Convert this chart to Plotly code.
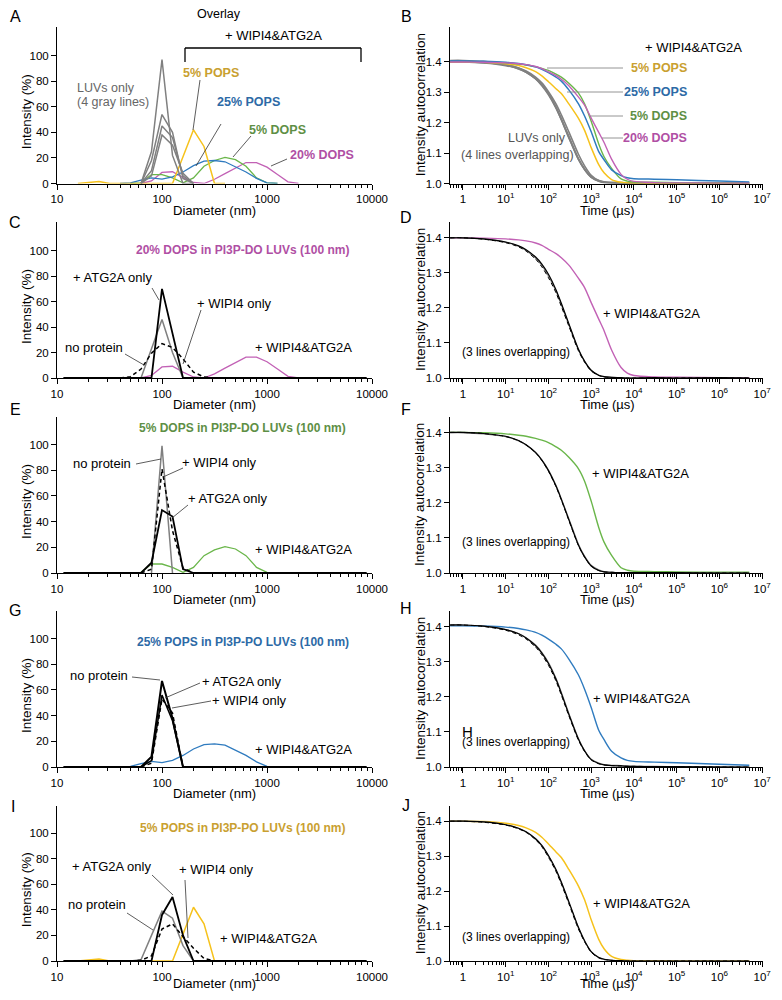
import plotly.graph_objects as go

# The page body has an 8px margin, so the figure is drawn 8px smaller on each side
# and every reference pixel position is shifted by that offset.
W, H = 782, 1000
OFF = 8
WF, HF = W - 2 * OFF, H - 2 * OFF
FONT = "Liberation Sans, Arial, Helvetica, sans-serif"

# ---------------- DLS size distributions: diameter (nm) / intensity (%) ----------------
luv_a_d = [63.1, 79.4, 100, 125.9, 158.5, 199.5]
luv_a1_i = [0, 25, 97, 22, 0, 0]
luv_a2_i = [0, 18, 54, 40, 4, 0]
luv_a3_i = [0, 10, 45, 36, 6, 0]
luv_a4_i = [0, 6, 38, 30, 8, 0]

pops5_d = [15.8, 20, 25.1, 31.6, 100, 125.9, 158.5, 199.5, 251.2, 316.2, 398.1]
pops5_i = [0, 0.5, 1.5, 0, 0, 0, 21, 42, 29, 0, 0]
pops25_d = [39.8, 50.1, 63.1, 79.4, 100, 125.9, 158.5, 199.5, 251.2, 316.2, 398.1, 501.2, 631, 794.3, 1000, 1259]
pops25_i = [0, 0.5, 2.6, 4.4, 3.4, 5.2, 9, 14, 17.5, 18, 17, 13, 9, 4, 0.5, 0]
dops5_d = [50.1, 63.1, 79.4, 100, 125.9, 158.5, 199.5, 251.2, 316.2, 398.1, 501.2, 631, 794.3, 1000, 1259]
dops5_i = [0, 0.5, 7, 7, 4.4, 0.5, 4.4, 13.5, 18, 20.5, 18.7, 13.5, 4.4, 0.5, 0]
dops20_d = [63.1, 79.4, 100, 125.9, 158.5, 199.5, 251.2, 316.2, 398.1, 501.2, 631, 794.3, 1000, 1259, 1585, 1995]
dops20_i = [0, 2, 8.7, 9.2, 4.6, 0.8, 0, 3.3, 7.7, 12.3, 16.4, 16.4, 12.8, 7, 1.3, 0]

c_noprot_d = [39.8, 50.1, 63.1, 79.4, 100, 125.9, 158.5, 199.5, 251.2, 316.2]
c_noprot_i = [0, 1, 7, 19.5, 27, 24, 15, 4.6, 0.8, 0]
c_wipi_d = [63.1, 79.4, 100, 125.9, 158.5]
c_wipi_i = [0, 23, 46, 20, 0]
c_atg_d = [11.5, 79.4, 100, 125.9, 158.5, 8900]
c_atg_i = [0, 0, 70, 35, 0, 0]

e_noprot_d = [79.4, 100, 125.9]
e_noprot_i = [0, 99, 0]
e_wipi_d = [63.1, 79.4, 100, 125.9, 158.5, 199.5]
e_wipi_i = [0, 3, 81, 33, 4, 0]
e_atg_d = [11.5, 63.1, 79.4, 100, 125.9, 158.5, 199.5, 8900]
e_atg_i = [0, 0, 8, 49, 44, 3, 0, 0]

g_noprot_d = [11.5, 63.1, 79.4, 100, 125.9, 158.5, 8900]
g_noprot_i = [0, 0, 8, 67, 38, 0, 0]
g_atg_d = [63.1, 79.4, 100, 125.9, 158.5]
g_atg_i = [0, 5, 56, 36, 0]
g_wipi_d = [63.1, 79.4, 100, 125.9, 158.5]
g_wipi_i = [0, 3, 53, 42, 0]

i_noprot_d = [50.1, 63.1, 79.4, 100, 125.9, 158.5, 199.5]
i_noprot_i = [0, 1, 20, 39, 33.5, 12, 0]
i_atg_d = [11.5, 79.4, 100, 125.9, 158.5, 199.5, 8900]
i_atg_i = [0, 0, 36, 50, 20, 0, 0]
i_wipi_d = [50.1, 63.1, 79.4, 100, 125.9, 158.5, 199.5, 251.2, 316.2]
i_wipi_i = [0, 0.5, 4, 25, 29, 19, 10, 2, 0]

# ---------------- autocorrelation: time (us) / g2 ----------------
time_us = [0.5, 1, 3, 10, 20, 30, 50, 70, 100, 150, 200, 300, 500, 700, 1000,
           1500, 2000, 3000, 5000, 7000, 1e4, 3e4, 1e5, 1e6, 5e6]
g2_pops5 = [1.400, 1.400, 1.399, 1.394, 1.388, 1.381, 1.368, 1.354, 1.335, 1.312, 1.296, 1.262, 1.215,
            1.175, 1.118, 1.062, 1.035, 1.013, 1.004, 1.002, 1.001, 1.001, 1.000, 1.000, 1.000]
g2_pops25 = [1.403, 1.403, 1.402, 1.399, 1.395, 1.391, 1.384, 1.376, 1.365, 1.350, 1.337, 1.308, 1.263,
             1.222, 1.170, 1.105, 1.078, 1.045, 1.026, 1.019, 1.016, 1.014, 1.012, 1.008, 1.005]
g2_dops5 = [1.401, 1.401, 1.400, 1.397, 1.393, 1.390, 1.384, 1.379, 1.372, 1.360, 1.350, 1.330, 1.298,
            1.262, 1.205, 1.130, 1.088, 1.050, 1.015, 1.008, 1.005, 1.004, 1.003, 1.002, 1.002]
g2_dops20 = [1.400, 1.400, 1.399, 1.397, 1.394, 1.391, 1.385, 1.378, 1.367, 1.355, 1.343, 1.322, 1.285,
             1.258, 1.215, 1.168, 1.135, 1.080, 1.030, 1.014, 1.007, 1.003, 1.002, 1.001, 1.001]

d_noprot = [1.400, 1.400, 1.397, 1.388, 1.377, 1.366, 1.345, 1.325, 1.296, 1.252, 1.213, 1.155, 1.083,
            1.048, 1.022, 1.008, 1.004, 1.002, 1.001, 1.000, 1.000, 1.001, 1.000, 1.001, 1.000]
d_wipi = [1.400, 1.400, 1.396, 1.386, 1.374, 1.362, 1.339, 1.317, 1.286, 1.243, 1.204, 1.148, 1.078,
          1.045, 1.020, 1.007, 1.003, 1.001, 1.000, 1.000, 1.000, 1.000, 1.000, 1.000, 1.000]
d_atg = [1.400, 1.400, 1.397, 1.387, 1.376, 1.364, 1.342, 1.321, 1.291, 1.248, 1.209, 1.152, 1.081,
         1.047, 1.021, 1.008, 1.004, 1.002, 1.001, 1.000, 1.000, 1.000, 1.000, 1.000, 1.000]

f_noprot = [1.401, 1.401, 1.398, 1.390, 1.378, 1.366, 1.344, 1.322, 1.292, 1.248, 1.210, 1.152, 1.080,
            1.046, 1.020, 1.007, 1.003, 1.002, 1.001, 1.001, 1.001, 1.001, 1.001, 1.000, 1.000]
f_wipi = [1.401, 1.401, 1.398, 1.389, 1.377, 1.365, 1.343, 1.321, 1.290, 1.246, 1.208, 1.150, 1.079,
          1.045, 1.020, 1.007, 1.003, 1.002, 1.001, 1.001, 1.001, 1.001, 1.000, 1.000, 1.000]
f_atg = [1.400, 1.400, 1.397, 1.389, 1.377, 1.365, 1.343, 1.323, 1.294, 1.250, 1.212, 1.155, 1.083,
         1.048, 1.022, 1.009, 1.004, 1.002, 1.001, 1.001, 1.001, 1.001, 1.000, 1.000, 1.000]

h_noprot = [1.405, 1.405, 1.402, 1.392, 1.380, 1.368, 1.346, 1.325, 1.295, 1.250, 1.210, 1.150, 1.080,
            1.046, 1.021, 1.010, 1.006, 1.004, 1.003, 1.002, 1.002, 1.001, 1.001, 1.000, 1.000]
h_wipi = [1.405, 1.405, 1.401, 1.390, 1.377, 1.365, 1.342, 1.320, 1.290, 1.245, 1.205, 1.146, 1.077,
          1.044, 1.020, 1.009, 1.006, 1.004, 1.003, 1.002, 1.002, 1.001, 1.001, 1.000, 1.000]
h_atg = [1.405, 1.405, 1.402, 1.392, 1.381, 1.369, 1.348, 1.327, 1.298, 1.253, 1.213, 1.153, 1.082,
         1.047, 1.022, 1.011, 1.007, 1.005, 1.004, 1.003, 1.002, 1.002, 1.001, 1.001, 1.000]

j_noprot = [1.400, 1.400, 1.398, 1.390, 1.380, 1.370, 1.350, 1.331, 1.302, 1.262, 1.226, 1.170, 1.097,
            1.058, 1.027, 1.010, 1.005, 1.002, 1.001, 1.000, 1.000, 1.000, 1.000, 1.000, 1.000]
j_wipi = [1.400, 1.400, 1.397, 1.389, 1.378, 1.368, 1.347, 1.327, 1.297, 1.256, 1.220, 1.164, 1.092,
          1.055, 1.025, 1.009, 1.004, 1.002, 1.001, 1.000, 1.000, 1.000, 1.000, 1.000, 1.000]
j_atg = [1.400, 1.400, 1.398, 1.390, 1.379, 1.369, 1.349, 1.329, 1.300, 1.259, 1.223, 1.167, 1.095,
         1.057, 1.026, 1.010, 1.005, 1.002, 1.001, 1.000, 1.000, 1.000, 1.000, 1.000, 1.000]

# ---------------- axis ticks ----------------
dls_tickvals = [10, 100, 1000, 10000]
dls_ticktext = ["10", "100", "1000", "10000"]
dls_minor = [k * 10 ** e for e in (1, 2, 3) for k in range(2, 10)]
int_tickvals = [0, 20, 40, 60, 80, 100]
time_tickvals = [1, 10, 100, 1e3, 1e4, 1e5, 1e6, 1e7]
time_ticktext = ["1", "10<sup>1</sup>", "10<sup>2</sup>", "10<sup>3</sup>", "10<sup>4</sup>",
                 "10<sup>5</sup>", "10<sup>6</sup>", "10<sup>7</sup>"]
time_minor = [k * 10 ** e for e in range(-1, 7) for k in range(2, 10) if k * 10 ** e >= 0.5]
g2_tickvals = [1.0, 1.1, 1.2, 1.3, 1.4]

# ---------------- colours ----------------
YEL, YEL_T = "#f6c21c", "#c9a030"
BLU, BLU_T = "#2f7bbf", "#2d6aa6"
GRN, GRN_T = "#6ab64a", "#5e8f45"
PUR, PUR_T = "#c261b5", "#b04fa4"
GRY = "#808080"
DASH = "4px,3px"


def px(x):
    return (x - OFF) / WF


def py(y):
    return 1 - (y - OFF) / HF


fig = go.Figure()

LEFT_X = (57, 372)
RIGHT_X = (450, 763)
ROWS = [(27, 183.5), (222, 378), (417, 573), (611, 767), (805.5, 961)]
LEFT_YMAX = [122.5, 122.5, 121.5, 121.5, 121.5]
RIGHT_YMAX = [1.515, 1.445, 1.445, 1.445, 1.445]

common = dict(showline=True, linecolor="black", linewidth=1, ticks="outside", tickcolor="black",
              ticklen=5, tickwidth=1, showgrid=False, zeroline=False, automargin=False,
              tickfont=dict(size=11.5, color="black", family=FONT))

for r in range(5):
    top, bot = ROWS[r]
    ydom = [py(bot), py(top)]
    nl = 2 * r + 1
    nr = 2 * r + 2
    sl = "" if nl == 1 else str(nl)
    sr = str(nr)
    fig.update_layout(**{
        "xaxis" + sl: dict(common, type="log", domain=[px(LEFT_X[0]), px(LEFT_X[1])], range=[1, 4],
                           tickvals=dls_tickvals, ticktext=dls_ticktext, anchor="y" + sl,
                           minor=dict(tickvals=dls_minor, ticks="outside", ticklen=3,
                                      tickcolor="black", tickwidth=1)),
        "yaxis" + sl: dict(common, domain=ydom, range=[0, LEFT_YMAX[r]], tickvals=int_tickvals,
                           anchor="x" + sl),
        "xaxis" + sr: dict(common, type="log", domain=[px(RIGHT_X[0]), px(RIGHT_X[1])],
                           range=[-0.304, 7.02], tickvals=time_tickvals, ticktext=time_ticktext,
                           anchor="y" + sr,
                           minor=dict(tickvals=time_minor, ticks="outside", ticklen=3,
                                      tickcolor="black", tickwidth=1)),
        "yaxis" + sr: dict(common, domain=ydom, range=[1.0, RIGHT_YMAX[r]], tickvals=g2_tickvals,
                           tickformat=".1f", anchor="x" + sr),
    })


def dls(n, d, i, color, width=1.3, dash="solid"):
    s = "" if n == 1 else str(n)
    fig.add_trace(go.Scatter(x=d, y=i, mode="lines", line=dict(color=color, width=width, dash=dash),
                             xaxis="x" + s, yaxis="y" + s, showlegend=False, hoverinfo="skip"))


def g2(n, y, color, width=1.4, dash="solid"):
    s = str(n)
    fig.add_trace(go.Scatter(x=time_us, y=y, mode="lines",
                             line=dict(color=color, width=width, dash=dash, shape="spline", smoothing=0.8),
                             xaxis="x" + s, yaxis="y" + s, showlegend=False, hoverinfo="skip"))


# Panel A (overlay)
dls(1, dops20_d, dops20_i, PUR)
dls(1, dops5_d, dops5_i, GRN)
dls(1, pops25_d, pops25_i, BLU)
dls(1, pops5_d, pops5_i, YEL, 1.5)
for arr in (luv_a4_i, luv_a3_i, luv_a2_i, luv_a1_i):
    dls(1, luv_a_d, arr, GRY, 1.5)

# Panel B
for arr in (d_noprot, f_noprot, h_noprot, j_noprot):
    g2(2, arr, GRY, 1.6)
g2(2, g2_pops5, YEL, 1.5)
g2(2, g2_dops5, GRN, 1.4)
g2(2, g2_pops25, BLU, 1.5)
g2(2, g2_dops20, PUR, 1.4)

# Panel C
dls(3, dops20_d, dops20_i, PUR)
dls(3, c_wipi_d, c_wipi_i, GRY, 1.5)
dls(3, c_noprot_d, c_noprot_i, "black", 1.5, DASH)
dls(3, c_atg_d, c_atg_i, "black", 1.8)

# Panel D
g2(4, g2_dops20, PUR, 1.4)
g2(4, d_atg, GRY, 1.2)
g2(4, d_wipi, "black", 1.0, DASH)
g2(4, d_noprot, "black", 1.2)

# Panel E
dls(5, dops5_d, dops5_i, GRN)
dls(5, e_noprot_d, e_noprot_i, GRY, 1.5)
dls(5, e_wipi_d, e_wipi_i, "black", 1.5, DASH)
dls(5, e_atg_d, e_atg_i, "black", 1.8)

# Panel F
g2(6, g2_dops5, GRN, 1.4)
g2(6, f_atg, GRY, 1.2)
g2(6, f_wipi, "black", 1.0, DASH)
g2(6, f_noprot, "black", 1.2)

# Panel G
dls(7, pops25_d, pops25_i, BLU)
dls(7, g_wipi_d, g_wipi_i, "black", 1.5, DASH)
dls(7, g_atg_d, g_atg_i, "black", 1.5)
dls(7, g_noprot_d, g_noprot_i, "black", 2.0)

# Panel H
g2(8, g2_pops25, BLU, 1.4)
g2(8, h_atg, GRY, 1.2)
g2(8, h_wipi, "black", 1.0, DASH)
g2(8, h_noprot, "black", 1.2)

# Panel I
dls(9, pops5_d, pops5_i, YEL, 1.5)
dls(9, i_noprot_d, i_noprot_i, GRY, 1.5)
dls(9, i_wipi_d, i_wipi_i, "black", 1.5, DASH)
dls(9, i_atg_d, i_atg_i, "black", 1.8)

# Panel J
g2(10, g2_pops5, YEL, 1.5)
g2(10, j_atg, GRY, 1.2)
g2(10, j_wipi, "black", 1.0, DASH)
g2(10, j_noprot, "black", 1.2)

# ---------------- annotations ----------------
anns = []
shapes = []


def ann(text, x, y, xanchor="left", size=13, color="black", angle=0):
    anns.append(dict(text=text, x=px(x), y=py(y), xref="paper", yref="paper", xanchor=xanchor,
                     yanchor="middle", showarrow=False, textangle=angle, borderpad=0,
                     font=dict(size=size, color=color, family=FONT)))


def seg(x0, y0, x1, y1, color="#333333", width=0.8):
    shapes.append(dict(type="line", xref="paper", yref="paper", x0=px(x0), y0=py(y0),
                       x1=px(x1), y1=py(y1), line=dict(color=color, width=width)))


# panel letters
for letter, x, y in [("A", 15, 16), ("B", 406, 16), ("C", 15, 222), ("D", 406, 218), ("E", 15, 410),
                     ("F", 406, 410), ("G", 15, 610), ("H", 406, 608), ("I", 13, 806), ("J", 406, 805)]:
    ann(letter, x, y, "center", 16)

# axis titles
for r in range(5):
    top, bot = ROWS[r]
    mid = (top + bot) / 2
    ty = bot + 26.5 if r < 4 else 983.5
    ann("Intensity (%)", 26, mid + 7, "center", 13.5, angle=-90)
    ann("Intensity autocorrelation", 420, mid, "center", 13.5, angle=-90)
    ann("Diameter (nm)", 214, ty, "center", 13)
    ann("Time (µs)", 607, ty, "center", 13)

# Panel A
ann("Overlay", 219, 14, "center", 12.5)
ann("+ WIPI4&ATG2A", 273, 36, "center", 13)
seg(185, 48, 361, 48, "black", 1.3)
seg(185, 48, 185, 62, "black", 1.3)
seg(361, 48, 361, 62, "black", 1.3)
ann("LUVs only", 76, 88, "left", 12.5, "#666666")
ann("(4 gray lines)", 76, 102, "left", 12.5, "#666666")
ann("<b>5% POPS</b>", 182, 73, "left", 12.5, YEL_T)
ann("<b>25% POPS</b>", 216, 102, "left", 12.5, BLU_T)
ann("<b>5% DOPS</b>", 248, 130, "left", 12.5, GRN_T)
ann("<b>20% DOPS</b>", 289, 155, "left", 12.5, PUR_T)
seg(200, 80, 193, 130)
seg(221, 124, 196, 166)
seg(251, 136, 233, 157)
seg(287, 159, 271, 166)

# Panel B
ann("+ WIPI4&ATG2A", 693, 47, "center", 13)
ann("<b>5% POPS</b>", 688, 68, "right", 12.5, YEL_T)
ann("<b>25% POPS</b>", 688, 92, "right", 12.5, BLU_T)
ann("<b>5% DOPS</b>", 688, 116, "right", 12.5, GRN_T)
ann("<b>20% DOPS</b>", 688, 138, "right", 12.5, PUR_T)
seg(547, 68, 623, 68, "#888888", 0.9)
seg(567, 92, 623, 92, "#888888", 0.9)
seg(590, 116, 623, 116, "#888888", 0.9)
seg(602, 138, 623, 138, "#888888", 0.9)
ann("LUVs only", 537, 138, "center", 12.5, "#555555")
ann("(4 lines overlapping)", 517, 155, "center", 12.5, "#555555")

# Panel C
ann("<b>20% DOPS in PI3P-DO LUVs (100 nm)</b>", 243, 250, "center", 12, PUR_T)
ann("+ ATG2A only", 72, 277)
ann("+ WIPI4 only", 196, 303)
ann("no protein", 64, 347)
ann("+ WIPI4&ATG2A", 254, 347)
seg(152, 288, 159, 300)
seg(201, 310, 183, 364)
seg(125, 354, 144, 365)

# Panel D
ann("+ WIPI4&ATG2A", 602, 313)
ann("(3 lines overlapping)", 461, 352, "left", 12)

# Panel E
ann("<b>5% DOPS in PI3P-DO LUVs (100 nm)</b>", 243, 428, "center", 12, GRN_T)
ann("no protein", 72, 463)
ann("+ WIPI4 only", 181, 462)
ann("+ ATG2A only", 187, 498)
ann("+ WIPI4&ATG2A", 254, 549)
seg(136, 464, 161, 459)
seg(183, 468, 163, 477)
seg(188, 505, 172, 518)

# Panel F
ann("+ WIPI4&ATG2A", 591, 473)
ann("(3 lines overlapping)", 461, 542, "left", 12)

# Panel G
ann("<b>25% POPS in PI3P-PO LUVs (100 nm)</b>", 243, 642, "center", 12, BLU_T)
ann("no protein", 69, 675)
ann("+ ATG2A only", 201, 681)
ann("+ WIPI4 only", 211, 700)
ann("+ WIPI4&ATG2A", 254, 749)
seg(132, 677, 160, 680)
seg(200, 683, 165, 698)
seg(211, 701, 172, 708)

# Panel H
ann("+ WIPI4&ATG2A", 592, 698)
ann("(3 lines overlapping)", 461, 742, "left", 12)
ann("H", 467, 731, "center", 15)

# Panel I
ann("<b>5% POPS in PI3P-PO LUVs (100 nm)</b>", 243, 828, "center", 12, YEL_T)
ann("+ ATG2A only", 71, 866)
ann("+ WIPI4 only", 178, 869)
ann("no protein", 67, 904)
ann("+ WIPI4&ATG2A", 219, 938)
seg(152, 875, 173, 895)
seg(185, 880, 188, 938)
seg(127, 913, 153, 930)

# Panel J
ann("+ WIPI4&ATG2A", 592, 903)
ann("(3 lines overlapping)", 461, 937, "left", 12)

fig.update_layout(width=WF, height=HF, margin=dict(l=0, r=0, t=0, b=0), paper_bgcolor="white",
                  plot_bgcolor="white", font=dict(family=FONT, color="black"),
                  annotations=anns, shapes=shapes, showlegend=False)

fig.write_html("out.html")
